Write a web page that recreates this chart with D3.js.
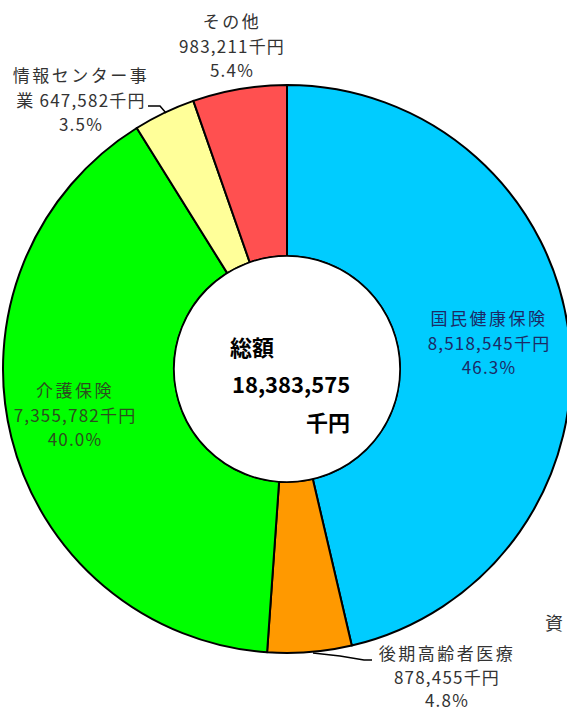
<!DOCTYPE html>
<html>
<head>
<meta charset="utf-8">
<script src="https://cdn.jsdelivr.net/npm/d3@7"></script>
<style>
  body { margin: 0; background: #fff; }
  svg { display: block; }
  text { font-family: "Noto Sans CJK JP", sans-serif; }
</style>
</head>
<body>
<svg id="chart" width="567" height="713"></svg>
<script>
// data (千円)
var names = ["国民健康保険", "後期高齢者医療", "介護保険", "情報センター事業", "その他"];
var values = [8518545, 878455, 7355782, 647582, 983211];
var percents = ["46.3%", "4.8%", "40.0%", "3.5%", "5.4%"];
var total = "18,383,575";

var colors = ["#00ccff", "#ff9900", "#00ff00", "#ffff99", "#ff5050"];
var textColors = ["#1c2a66", "#333", "#2b4f1e", "#333", "#333"];

var width = 567, height = 713;
var cx = 287, cy = 369, outerR = 284, innerR = 113;

var svg = d3.select("#chart");
var g = svg.append("g").attr("transform", "translate(" + cx + "," + cy + ")");

var pie = d3.pie().sort(null).value(function(d) { return d; });
var arc = d3.arc().innerRadius(innerR).outerRadius(outerR);

g.selectAll("path.slice")
  .data(pie(values))
  .enter()
  .append("path")
  .attr("class", "slice")
  .attr("d", arc)
  .attr("fill", function(d, i) { return colors[i]; })
  .attr("stroke", "#000")
  .attr("stroke-width", 2)
  .attr("stroke-linejoin", "round");

// center hole
g.append("circle")
  .attr("r", innerR)
  .attr("fill", "#fff")
  .attr("stroke", "#000")
  .attr("stroke-width", 1.5);

// center text
var centerText = [
  { t: "総額", x: -57, y: -13, anchor: "start" },
  { t: total, x: -55, y: 24, anchor: "start" },
  { t: "千円", x: 63, y: 62, anchor: "end" }
];
g.selectAll("text.center")
  .data(centerText)
  .enter()
  .append("text")
  .attr("class", "center")
  .attr("x", function(d) { return d.x; })
  .attr("y", function(d) { return d.y; })
  .attr("text-anchor", function(d) { return d.anchor; })
  .attr("font-size", 22)
  .attr("font-weight", "bold")
  .attr("fill", "#000")
  .text(function(d) { return d.t; });

// label layout (absolute page coords), one entry per slice
var fmt = d3.format(",");
var labelLayout = [
  { x: 489, y: 325, gap: 24.5, lines: [names[0], fmt(values[0]) + "千円", percents[0]] },
  { x: 447, y: 660, gap: 23.5, lines: [names[1], fmt(values[1]) + "千円", percents[1]] },
  { x: 75, y: 397, gap: 24.5, lines: ["介護保険", fmt(values[2]) + "千円", percents[2]] },
  { x: 81, y: 82, gap: 24.5, lines: ["情報センター事", "業 " + fmt(values[3]) + "千円", percents[3]] },
  { x: 232, y: 28, gap: 24.5, lines: [names[4], fmt(values[4]) + "千円", percents[4]] }
];

labelLayout.forEach(function(l, i) {
  var t = svg.append("text")
    .attr("text-anchor", "middle")
    .attr("font-size", 17)
    .attr("fill", textColors[i]);
  l.lines.forEach(function(s, j) {
    t.append("tspan")
      .attr("x", l.x)
      .attr("y", l.y + j * l.gap)
      .attr("letter-spacing", /\d/.test(s) ? 1.2 : 2.5)
      .text(s);
  });
});

// leader lines
var leaders = [
  [[148, 106], [160, 106], [166, 113]],
  [[313, 653], [340, 656], [364, 660], [372, 660]]
];
svg.selectAll("path.leader")
  .data(leaders)
  .enter()
  .append("path")
  .attr("class", "leader")
  .attr("d", d3.line())
  .attr("fill", "none")
  .attr("stroke", "#000")
  .attr("stroke-width", 1.5);

// source note (cut by the right edge in the original)
svg.append("text")
  .attr("x", 545)
  .attr("y", 630)
  .attr("font-size", 18)
  .attr("fill", "#333")
  .text("資");
</script>
</body>
</html>
